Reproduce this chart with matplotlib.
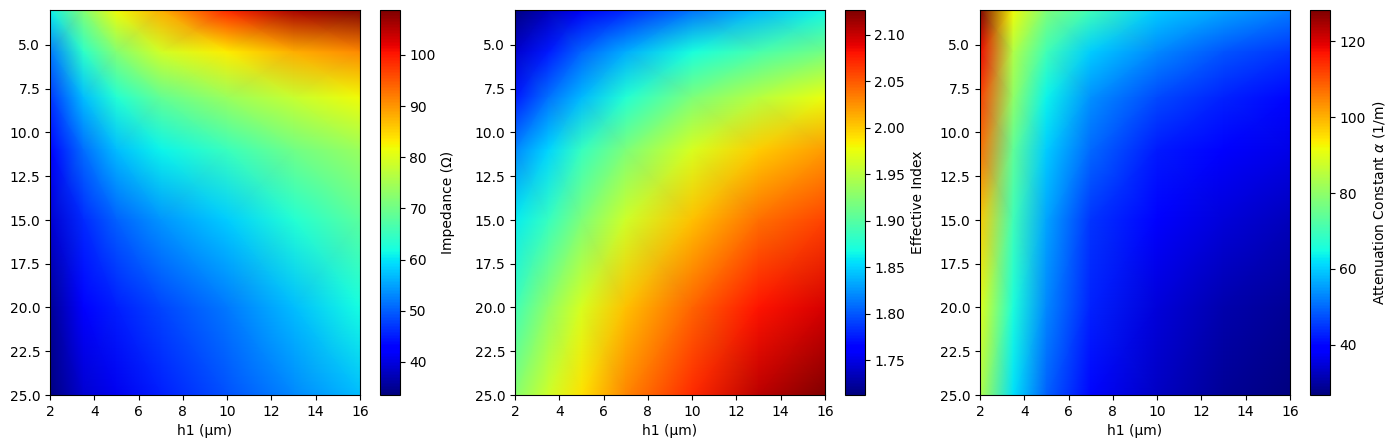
import matplotlib
matplotlib.use("Agg")
import matplotlib.pyplot as plt
import numpy as np

h1 = [2, 3.5, 5, 7, 10, 13, 16]
w = [3, 5.4, 8, 11, 15, 20, 25]

impedance = [
    [61, 72, 82, 88, 99, 106, 108.8],
    [52, 64, 72, 79, 83, 88, 91],
    [47, 57, 63, 69, 74, 78, 82],
    [43, 51, 57, 61, 65, 70, 74],
    [39, 46, 50, 54, 58, 63, 68],
    [35, 42, 45, 48, 52, 57, 62],
    [33.5, 39, 41, 45, 49, 53, 57],
]
eff_index = [
    [1.7125, 1.735, 1.755, 1.78, 1.81, 1.84, 1.865],
    [1.74, 1.775, 1.805, 1.835, 1.87, 1.895, 1.915],
    [1.775, 1.81, 1.84, 1.875, 1.92, 1.95, 1.975],
    [1.82, 1.85, 1.885, 1.92, 1.965, 2.00, 2.02],
    [1.86, 1.885, 1.92, 1.96, 2.005, 2.04, 2.06],
    [1.89, 1.93, 1.965, 2.005, 2.045, 2.08, 2.095],
    [1.925, 1.96, 1.99, 2.03, 2.07, 2.105, 2.1265],
]
attenuation = [
    [128.2, 92, 78, 70, 60, 56, 52],
    [118, 84, 70, 60, 53, 48, 45],
    [112, 80, 64, 54, 47, 43, 40],
    [107, 74, 60, 50, 42, 39, 36],
    [97, 70, 56, 45, 38, 35, 32],
    [90, 66, 53, 43, 35, 31, 29],
    [84, 62, 49, 40, 33, 29, 26.8],
]
series = [impedance, eff_index, attenuation]
labels = ["Impedance (Ω)", "Effective Index", "Attenuation Constant $\\alpha$ (1/m)"]
ax_left = [50, 515, 980]
cb_left = [380.4, 845.4, 1310.4]

W, H = 1396, 448
fig = plt.figure(figsize=(W / 100, H / 100), dpi=100)
for vals, lab, al, cl in zip(series, labels, ax_left, cb_left):
    ax = fig.add_axes([al / W, 1 - 395 / H, 310 / W, 385 / H])
    cax = fig.add_axes([cl / W, 1 - 395 / H, 19.3 / W, 385 / H])
    m = ax.pcolormesh(h1, w, np.array(vals), shading="gouraud", cmap="jet")
    ax.set_xlim(2, 16)
    ax.set_ylim(25, 3)
    ax.set_xticks(range(2, 17, 2))
    ax.set_yticks(np.arange(5, 25.1, 2.5))
    ax.set_xlabel("h1 (μm)")
    cb = fig.colorbar(m, cax=cax)
    cb.set_label(lab, labelpad=3.8)
fig.savefig("out.png", dpi=100)
